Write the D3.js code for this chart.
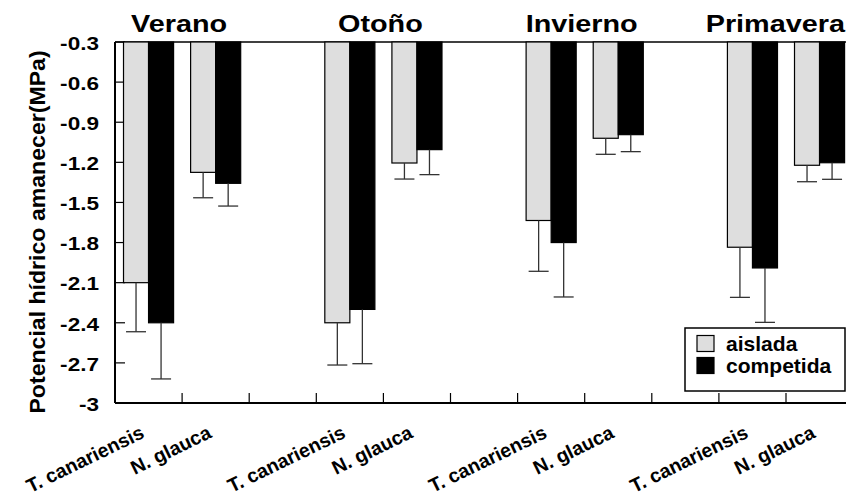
<!DOCTYPE html>
<html>
<head>
<meta charset="utf-8">
<script src="https://cdn.jsdelivr.net/npm/d3@7"></script>
<style>
  body { margin: 0; background: #fff; }
  text { font-family: "Liberation Sans", Arial, sans-serif; font-weight: bold; fill: #000; }
</style>
</head>
<body>
<svg></svg>
<script>
const seasons = ['Verano', 'Otoño', 'Invierno', 'Primavera']
const species = ['T. canariensis', 'N. glauca']
const treatments = ['aislada', 'competida']

// means (MPa), order: season x species
const aisladaMean = [-2.10, -1.275, -2.40, -1.205, -1.635, -1.02, -1.835, -1.222]
const competidaMean = [-2.40, -1.357, -2.30, -1.105, -1.80, -0.993, -1.99, -1.203]
// error bar length (downwards)
const aisladaErr = [0.367, 0.19, 0.316, 0.12, 0.38, 0.12, 0.375, 0.123]
const competidaErr = [0.42, 0.17, 0.406, 0.187, 0.407, 0.127, 0.407, 0.124]

const yTicks = [-0.3, -0.6, -0.9, -1.2, -1.5, -1.8, -2.1, -2.4, -2.7, -3]
const yTitle = 'Potencial hídrico amanecer(MPa)'

const svgWidth = 846
const svgHeight = 500
const plotLeft = 115
const plotTop = 42
const plotBottom = 403

const svg = d3.select('svg')
  .attr('width', svgWidth)
  .attr('height', svgHeight)

// slots: 2 species per season, one empty slot between seasons
const slots = []
seasons.forEach((s, i) => {
  species.forEach(sp => slots.push(s + '|' + sp))
  if (i < seasons.length - 1) slots.push('gap' + i)
})

const x = d3.scaleBand()
  .domain(slots)
  .range([plotLeft, plotLeft + 67.1 * slots.length])

const x1 = d3.scaleBand()
  .domain(treatments)
  .range([0, x.bandwidth()])
  .paddingOuter(0.34)

const y = d3.scaleLinear()
  .domain([-3, -0.3])
  .range([plotBottom, plotTop])

const rows = []
seasons.forEach((s, i) => {
  species.forEach((sp, j) => {
    const k = i * 2 + j
    rows.push({ slot: s + '|' + sp, t: 'aislada', v: aisladaMean[k], e: aisladaErr[k] })
    rows.push({ slot: s + '|' + sp, t: 'competida', v: competidaMean[k], e: competidaErr[k] })
  })
})

// frame lines
svg.append('line')
  .attr('x1', plotLeft).attr('x2', svgWidth)
  .attr('y1', plotTop).attr('y2', plotTop)
  .attr('stroke', '#000').attr('stroke-width', 1.5)
svg.append('line')
  .attr('x1', plotLeft).attr('x2', svgWidth)
  .attr('y1', plotBottom).attr('y2', plotBottom)
  .attr('stroke', '#000').attr('stroke-width', 2)
svg.append('line')
  .attr('x1', plotLeft).attr('x2', plotLeft)
  .attr('y1', plotTop).attr('y2', plotBottom)
  .attr('stroke', '#000').attr('stroke-width', 2)

// y ticks (inside)
svg.selectAll('.ytick')
  .data(yTicks)
  .enter()
  .append('line')
  .attr('x1', plotLeft).attr('x2', plotLeft + 10)
  .attr('y1', d => y(d)).attr('y2', d => y(d))
  .attr('stroke', '#000').attr('stroke-width', 1.2)

svg.selectAll('.ylab')
  .data(yTicks)
  .enter()
  .append('text')
  .attr('text-anchor', 'end')
  .attr('dominant-baseline', 'central')
  .style('font-size', '18.5px')
  .attr('transform', d => `translate(99,${y(d) + 1}) scale(1.22,1)`)
  .text(d => d)

// x ticks at slot boundaries (inside)
svg.selectAll('.xtick')
  .data(slots.slice(1))
  .enter()
  .append('line')
  .attr('x1', d => x(d)).attr('x2', d => x(d))
  .attr('y1', plotBottom).attr('y2', plotBottom - 10)
  .attr('stroke', '#000').attr('stroke-width', 1.2)

// bars hang from the top of the axis
svg.selectAll('.bar')
  .data(rows)
  .enter()
  .append('rect')
  .attr('x', d => x(d.slot) + x1(d.t))
  .attr('width', x1.bandwidth())
  .attr('y', y(-0.3))
  .attr('height', d => y(d.v) - y(-0.3))
  .attr('fill', d => d.t === 'aislada' ? '#dedede' : '#000')
  .attr('stroke', '#000')
  .attr('stroke-width', 1.2)

// error bars
const eb = svg.selectAll('.err')
  .data(rows)
  .enter()
  .append('g')
  .attr('stroke', '#333')
  .attr('stroke-width', 1.3)
eb.append('line')
  .attr('x1', d => x(d.slot) + x1(d.t) + x1.bandwidth() / 2)
  .attr('x2', d => x(d.slot) + x1(d.t) + x1.bandwidth() / 2)
  .attr('y1', d => y(d.v))
  .attr('y2', d => y(d.v - d.e))
eb.append('line')
  .attr('x1', d => x(d.slot) + x1(d.t) + x1.bandwidth() / 2 - 10)
  .attr('x2', d => x(d.slot) + x1(d.t) + x1.bandwidth() / 2 + 10)
  .attr('y1', d => y(d.v - d.e))
  .attr('y2', d => y(d.v - d.e))

// season titles
svg.selectAll('.season')
  .data(seasons)
  .enter()
  .append('text')
  .attr('text-anchor', 'middle')
  .style('font-size', '24px')
  .text(d => d)
  .attr('transform', function (d) {
    const c = (x(d + '|' + species[0]) + x(d + '|' + species[1]) + x.bandwidth()) / 2 - 3
    const half = this.getComputedTextLength() * 1.2 / 2
    return `translate(${Math.min(c, svgWidth - 1 - half)},32) scale(1.2,1)`
  })

// species labels, slanted: written along a short sloped path under each slot
const angle = 26
const rad = angle * Math.PI / 180
const labelSlots = slots.filter(s => s.indexOf('|') > 0)
const defs = svg.append('defs')
defs.selectAll('path')
  .data(labelSlots)
  .enter()
  .append('path')
  .attr('id', (d, i) => 'lab' + i)
  .attr('d', d => {
    const ex = x(d) + x.bandwidth() / 2 - 3
    const ey = 437
    const L = 200
    return `M${ex - L * Math.cos(rad)},${ey + L * Math.sin(rad)}L${ex},${ey}`
  })
svg.selectAll('.sp')
  .data(labelSlots)
  .enter()
  .append('text')
  .style('font-size', '19.5px')
  .attr('text-anchor', 'end')
  .append('textPath')
  .attr('href', (d, i) => '#lab' + i)
  .attr('startOffset', '100%')
  .text(d => d.split('|')[1])

// y title
svg.append('text')
  .attr('text-anchor', 'middle')
  .style('font-size', '22px')
  .attr('transform', 'translate(45,232) rotate(-90) scale(1.05,1)')
  .text(yTitle)

// legend
const legend = svg.append('g')
legend.append('rect')
  .attr('x', 685).attr('y', 328)
  .attr('width', 160).attr('height', 63)
  .attr('fill', '#fff')
  .attr('stroke', '#000').attr('stroke-width', 1.5)
treatments.forEach((t, i) => {
  legend.append('rect')
    .attr('x', 697).attr('y', 335.5 + i * 22)
    .attr('width', 17).attr('height', 16)
    .attr('fill', t === 'aislada' ? '#dedede' : '#000')
    .attr('stroke', '#000').attr('stroke-width', 1.2)
  legend.append('text')
    .style('font-size', '19.5px')
    .attr('transform', `translate(726,${351 + i * 22}) scale(1.08,1)`)
    .text(t)
})
</script>
</body>
</html>
